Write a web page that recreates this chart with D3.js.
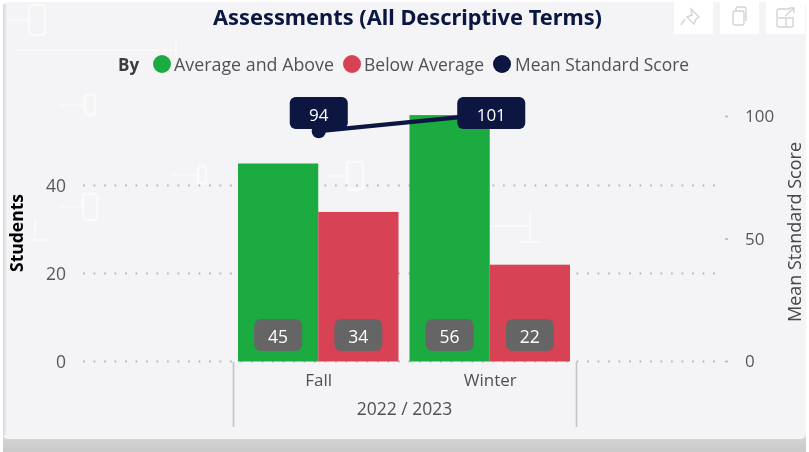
<!DOCTYPE html>
<html><head><meta charset="utf-8">
<script src="https://cdn.jsdelivr.net/npm/d3@7/dist/d3.min.js"></script>
<style>
html,body{margin:0;padding:0;background:#fff;overflow:hidden}
svg{display:block;font-family:"Open Sans","Noto Sans",sans-serif}
</style></head><body><svg id="c" width="809" height="452"></svg>
<script>
const categories = ["Fall","Winter"];
const groupLabel = "2022 / 2023";
const seriesNames = ["Average and Above","Below Average","Mean Standard Score"];
const aboveValues = [45,56];
const belowValues = [34,22];
const meanValues = [94,101];
const leftTicks = [0,20,40];
const rightTicks = [0,50,100];
const colors = ["#1bab40","#d74354","#07143f"];

const svg = d3.select("#c");
const defs = svg.append("defs");
const blur = defs.append("filter").attr("id","soft").attr("x","-5%").attr("y","-5%").attr("width","110%").attr("height","110%");
blur.append("feGaussianBlur").attr("stdDeviation",0.4);
const sh = defs.append("linearGradient").attr("id","shadow").attr("x1",0).attr("x2",0).attr("y1",0).attr("y2",1);
sh.append("stop").attr("offset",0).attr("stop-color","#dcdcdc");
sh.append("stop").attr("offset",1).attr("stop-color","#c9c9c9");
const edge = defs.append("linearGradient").attr("id","edge");
edge.append("stop").attr("offset",0).attr("stop-color","#d6d6d8");
edge.append("stop").attr("offset",1).attr("stop-color","#f4f4f6");

// card
svg.append("rect").attr("x",3).attr("y",430).attr("width",803).attr("height",22).attr("fill","url(#shadow)");
svg.append("rect").attr("x",3).attr("y",2).attr("width",803).attr("height",437).attr("rx",5).attr("fill","#f4f4f6");
svg.append("rect").attr("x",3).attr("y",4).attr("width",4).attr("height",431).attr("fill","url(#edge)");

// faint background decoration
const deco = svg.append("g").attr("fill","none").attr("stroke","#fff").attr("stroke-width",2.5).attr("opacity",0.6).attr("filter","url(#soft)");
const zeros = [[37,20,16,30],[90,105,10,20],[202,175,8,18],[355,176,16,28],[90,207,14,26]];
zeros.forEach(d=>{
  deco.append("rect").attr("x",d[0]-d[2]/2).attr("y",d[1]-d[3]/2).attr("width",d[2]).attr("height",d[3]).attr("rx",3);
  deco.append("line").attr("x1",d[0]-30).attr("x2",d[0]-d[2]/2).attr("y1",d[1]).attr("y2",d[1]).attr("stroke-width",1.2);
});
deco.append("path").attr("d","M15 50H176M176 37V58M35 220V240M28 240H50").attr("stroke-width",1.5);
deco.append("path").attr("d","M530 212V242M520 242H540M490 226H528").attr("stroke-width",2);

const x0 = d3.scaleBand().domain(categories).range([233,576]).paddingInner(0).paddingOuter(0);
const x1 = d3.scaleBand().domain([0,1]).range([5,x0.bandwidth()-6]);
const yL = d3.scaleLinear().domain([0,40]).range([361.5,185.5]);
const yR = d3.scaleLinear().domain([0,100]).range([361.5,116.5]);

const root = svg.append("g").attr("filter","url(#soft)");

// title
root.append("text").attr("x",407.5).attr("y",25).attr("text-anchor","middle")
  .attr("font-size",21.5).attr("font-weight",700).attr("fill",colors[2])
  .attr("font-family","'Noto Sans','Open Sans',sans-serif")
  .attr("textLength",389).attr("lengthAdjust","spacingAndGlyphs")
  .text("Assessments (All Descriptive Terms)");

// toolbar icons
const bar = root.append("g");
[674,720,766].forEach(x=>bar.append("rect").attr("x",x).attr("y",2).attr("width",39).attr("height",32).attr("fill","#fff"));
bar.append("g").attr("fill","none").attr("stroke","#d4d4d4").attr("stroke-width",1.4).call(g=>{
  g.append("path").attr("d","M691 9l8 8-3 2-2 5-7-7 5-2zM685 19l-4 6");
  g.append("rect").attr("x",733).attr("y",11).attr("width",11).attr("height",14).attr("rx",2);
  g.append("path").attr("d","M736 11v-2a2 2 0 0 1 2-2h6a2 2 0 0 1 2 2v12");
  g.append("path").attr("d","M790 9h-11a2 2 0 0 0-2 2v14a2 2 0 0 0 2 2h12a2 2 0 0 0 2-2v-7h-7v9M778 18h9M785 16l9-8M789 8h5v5");
});

// legend
const lg = root.append("g").attr("font-size",17.5).attr("fill","#505057");
lg.append("text").attr("x",118).attr("y",71).attr("font-weight",700).attr("fill","#3a3a40").attr("font-size",17).text("By");
[[162,174,160],[352,364,120],[502,515,174]].forEach((p,i)=>{
  lg.append("circle").attr("cx",p[0]).attr("cy",64).attr("r",9).attr("fill",colors[i]);
  lg.append("text").attr("x",p[1]).attr("y",71).attr("textLength",p[2]).attr("lengthAdjust","spacingAndGlyphs").text(seriesNames[i]);
});

// grid
const grid = root.append("g").attr("stroke","#b8b8bc").attr("stroke-width",1.8).attr("stroke-dasharray","1.8 8.7");
leftTicks.forEach(t=>grid.append("line").attr("x1",83).attr("x2",722).attr("y1",yL(t)).attr("y2",yL(t)));

// axes
const axL = root.append("g").attr("transform","translate(66,0)")
  .call(d3.axisLeft(yL).tickValues(leftTicks).tickSize(0).tickPadding(0));
axL.select(".domain").remove();
axL.selectAll("text").attr("font-size",17.5).attr("fill","#57575e").attr("font-family","'Open Sans',sans-serif");
const axR = root.append("g").attr("transform","translate(745,0)")
  .call(d3.axisRight(yR).tickValues(rightTicks).tickSize(0).tickPadding(0));
axR.select(".domain").remove();
axR.selectAll("text").attr("font-size",17).attr("fill","#57575e").attr("font-family","'Open Sans',sans-serif");
rightTicks.forEach(t=>root.append("rect").attr("x",725).attr("y",yR(t)-0.8).attr("width",3).attr("height",1.6).attr("fill","#b8b8bc"));

root.append("text").attr("transform","translate(23,233) rotate(-90)").attr("text-anchor","middle")
  .attr("font-size",17).attr("font-weight",700).attr("fill","#000")
  .attr("textLength",78).attr("lengthAdjust","spacingAndGlyphs").text("Students");
root.append("text").attr("transform","translate(801,232) rotate(-90)").attr("text-anchor","middle")
  .attr("font-size",17.5).attr("fill","#44444b")
  .attr("textLength",180).attr("lengthAdjust","spacingAndGlyphs").text("Mean Standard Score");

// bars
const rows = categories.map((c,i)=>({c,vals:[aboveValues[i],belowValues[i]]}));
const groups = root.selectAll("g.cat").data(rows).join("g").attr("class","cat")
  .attr("transform",d=>`translate(${x0(d.c)},0)`);
groups.selectAll("rect.bar").data(d=>d.vals).join("rect").attr("class","bar")
  .attr("x",(d,i)=>x1(i)).attr("width",x1.bandwidth())
  .attr("y",d=>yL(d)).attr("height",d=>yL(0)-yL(d))
  .attr("fill",(d,i)=>colors[i]);
groups.selectAll("rect.lab").data(d=>d.vals).join("rect").attr("class","lab")
  .attr("x",(d,i)=>x1(i)+x1.bandwidth()/2-24).attr("y",319).attr("width",48).attr("height",32).attr("rx",7)
  .attr("fill","#656565");
groups.selectAll("text.lab").data(d=>d.vals).join("text").attr("class","lab")
  .attr("x",(d,i)=>x1(i)+x1.bandwidth()/2).attr("y",343).attr("text-anchor","middle")
  .attr("font-size",17.5).attr("fill","#fff").text(d=>d);

// category axis
const axB = root.append("g").attr("transform","translate(0,381)")
  .call(d3.axisBottom(x0).tickSize(0).tickPadding(0));
axB.select(".domain").remove();
axB.selectAll("text").attr("font-size",17).attr("fill","#505057").attr("dy","0.3em").attr("font-family","'Open Sans',sans-serif").attr("y",0);
root.append("text").attr("x",404.5).attr("y",415).attr("text-anchor","middle")
  .attr("font-size",17.5).attr("fill","#505057").text(groupLabel);
[x0.range()[0],x0.range()[1]].forEach(x=>root.append("line").attr("x1",x+.5).attr("x2",x+.5).attr("y1",362).attr("y2",427).attr("stroke","#c4c4c6").attr("stroke-width",1.6));

// mean line
const line = d3.line().x(d=>x0(d.c)+x0.bandwidth()/2).y(d=>yR(d.v));
const meanRows = categories.map((c,i)=>({c,v:meanValues[i]}));
root.append("path").attr("d",line(meanRows)).attr("fill","none").attr("stroke",colors[2]).attr("stroke-width",4.2);
root.selectAll("circle.m").data(meanRows).join("circle").attr("class","m")
  .attr("cx",d=>x0(d.c)+x0.bandwidth()/2).attr("cy",d=>yR(d.v)).attr("r",7).attr("fill",colors[2]);
const labW = [58,68];
root.selectAll("rect.ml").data(meanRows).join("rect").attr("class","ml")
  .attr("x",(d,i)=>x0(d.c)+x0.bandwidth()/2-labW[i]/2+(i?1:0)).attr("y",97).attr("width",(d,i)=>labW[i]).attr("height",32).attr("rx",6)
  .attr("fill",colors[2]);
root.selectAll("text.ml").data(meanRows).join("text").attr("class","ml")
  .attr("x",(d,i)=>x0(d.c)+x0.bandwidth()/2+(i?1:0)).attr("y",121).attr("text-anchor","middle")
  .attr("font-size",17).attr("fill","#fff").text(d=>d.v);
</script></body></html>
